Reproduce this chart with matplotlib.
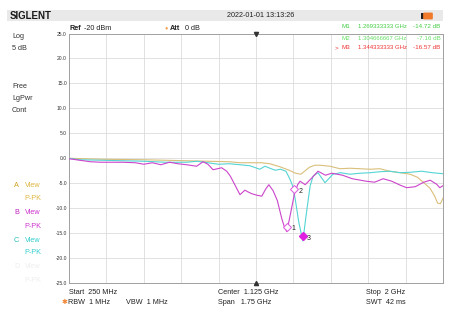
import matplotlib
matplotlib.use("Agg")
import matplotlib.pyplot as plt
from matplotlib.patches import Rectangle, FancyBboxPatch
from matplotlib.transforms import offset_copy

plt.rcParams['font.family'] = ['Liberation Sans', 'DejaVu Sans']

# ---------------- data ----------------
# Trace A (yellow), frequency in MHz, level in dB
freq_a = [250, 400, 600, 800, 900, 1000, 1050, 1150, 1190, 1237, 1280, 1310, 1335, 1355,
          1375, 1400, 1424, 1471, 1518, 1565, 1612, 1660, 1705, 1750, 1800, 1846, 1880,
          1910, 1939, 1960, 1975, 1988, 2000]
vals_a = [0.0, -0.2, -0.3, -0.5, -0.6, -0.7, -0.9, -0.9, -1.1, -1.7, -2.4, -3.0, -3.2, -2.5,
          -1.8, -1.4, -1.4, -1.6, -2.1, -2.0, -2.1, -2.2, -2.1, -2.6, -2.9, -3.2, -3.8,
          -4.9, -6.0, -7.5, -9.0, -9.1, -8.0]

# Trace B (magenta)
freq_b = [250, 300, 350, 400, 450, 500, 560, 600, 640, 680, 720, 760, 800, 847, 877, 900,
          924, 945, 964, 988, 1005, 1027, 1050, 1073, 1090, 1105, 1128, 1152, 1170, 1185,
          1205, 1225, 1245, 1258, 1269.33, 1287, 1304.67, 1320, 1331, 1355, 1385, 1415,
          1450, 1480, 1530, 1575, 1640, 1680, 1720, 1760, 1800, 1830, 1870, 1910, 1940,
          1970, 1985, 2000]
vals_b = [-0.1, -0.4, -0.7, -0.8, -0.8, -0.8, -0.9, -1.2, -0.9, -1.3, -0.8, -1.1, -1.3, -1.6,
          -0.7, -1.2, -2.3, -2.1, -1.9, -2.6, -3.6, -5.4, -7.3, -6.4, -6.8, -7.1, -7.4, -7.6,
          -6.2, -5.3, -6.5, -8.5, -12.0, -13.8, -14.72, -11.0, -7.16, -5.3, -4.6, -5.3, -4.0,
          -2.6, -3.4, -3.0, -3.4, -4.1, -4.6, -4.8, -4.1, -4.6, -5.4, -5.9, -5.7, -4.8, -4.4,
          -5.2, -5.9, -5.5]

# Trace C (cyan)
freq_c = [250, 300, 400, 500, 600, 700, 800, 850, 900, 950, 1000, 1050, 1096, 1143, 1167,
          1190, 1215, 1240, 1265, 1284, 1296, 1307, 1326, 1344.33, 1359, 1378, 1392, 1415,
          1448, 1485, 1520, 1565, 1612, 1660, 1705, 1750, 1800, 1850, 1900, 1950, 2000]
vals_c = [0.0, -0.3, -0.4, -0.5, -0.6, -0.8, -0.8, -0.6, -0.9, -1.2, -1.1, -1.3, -1.5, -2.2,
          -1.6, -2.0, -2.4, -2.2, -2.6, -4.2, -5.5, -7.8, -13.0, -16.57, -11.6, -5.6, -3.6,
          -2.9, -4.9, -3.2, -2.9, -3.2, -3.0, -2.9, -2.7, -2.6, -2.9, -2.8, -2.6, -2.9, -3.1]

# Markers
marker_names = ['1', '2', '3']
marker_freqs = [1269.333333, 1304.666667, 1344.333333]
marker_vals = [-14.72, -7.16, -16.57]
marker_ids = ['M1', 'M2', 'M3']
marker_freq_txt = ['1.269333333 GHz', '1.304666667 GHz', '1.344333333 GHz']
marker_val_txt = ['-14.72 dB', '-7.16 dB', '-16.57 dB']

start_mhz, stop_mhz = 250, 2000
ref_top, ref_bottom = 25, -25
y_ticks = [25, 20, 15, 10, 5, 0, -5, -10, -15, -20, -25]

# ---------------- figure ----------------
W, H = 450, 309
fig = plt.figure(figsize=(W / 100, H / 100), dpi=100)
fig.patch.set_facecolor('white')

def fx(x):
    return x / W

def fy(y):
    return 1 - y / H

left, right, top, bottom = 69, 443, 33.5, 283
ax = fig.add_axes([fx(left), fy(bottom), fx(right) - fx(left), fy(top) - fy(bottom)])
ax.set_xlim(start_mhz, stop_mhz)
ax.set_ylim(ref_bottom, ref_top)
step = (stop_mhz - start_mhz) / 10
ax.set_xticks([start_mhz + i * step for i in range(11)])
ax.set_xticklabels([])
ax.set_yticks(y_ticks)
ax.set_yticklabels([f'{v:.1f}' for v in y_ticks], fontsize=3.6, color='#333333')
ax.tick_params(length=0, pad=1.5)
ax.grid(True, color='#dcdcdc', lw=0.6)
for s in ax.spines.values():
    s.set_color('#a0a0a0')
    s.set_linewidth(0.7)

col_a = '#d9bf7a'
col_b = '#cc44cc'
col_c = '#55d4d4'
ax.plot(freq_a, vals_a, color=col_a, lw=0.8, zorder=3)
ax.plot(freq_c, vals_c, color=col_c, lw=0.8, zorder=4)
ax.plot(freq_b, vals_b, color=col_b, lw=0.8, zorder=5)

# markers (diamond sits just above the point)
mk_tr = offset_copy(ax.transData, fig=fig, x=0, y=3.5, units='points')
for i, (n, f, v) in enumerate(zip(marker_names, marker_freqs, marker_vals)):
    if i == 2:
        ax.plot([f], [v], marker='D', ms=3.6, mfc='#e020e0', mec='#e020e0',
                transform=mk_tr, zorder=7)
    else:
        ax.plot([f], [v], marker='D', ms=3.6, mfc='white', mec='#dd55dd', mew=0.7,
                transform=mk_tr, zorder=7)
    ax.text(f, v, n, transform=offset_copy(ax.transData, fig=fig, x=3.0, y=2.0, units='points'),
            fontsize=5, color='#222222', va='center', ha='left', zorder=8)

# center triangles
cx = (start_mhz + stop_mhz) / 2
ax.plot([cx], [ref_top], marker='v', ms=3, color='#333333', clip_on=False, zorder=9)
ax.plot([cx], [ref_bottom], marker='^', ms=3, color='#333333', clip_on=False, zorder=9)

# ---------------- header ----------------
fig.patches.append(Rectangle((fx(7), fy(20.5)), fx(443) - fx(7), fy(10) - fy(20.5),
                             transform=fig.transFigure, facecolor='#e9e9e9',
                             edgecolor='none', zorder=0))
fig.text(fx(10), fy(16), 'SIGLENT', fontsize=7, fontweight='bold', color='#1a1a1a',
         va='center', ha='left')
fig.text(fx(227), fy(15.5), '2022-01-01 13:13:26', fontsize=5.2, color='#222222',
         va='center', ha='left')
fig.patches.append(Rectangle((fx(420.5), fy(18.5)), fx(3.5), fy(13) - fy(18.5),
                             transform=fig.transFigure, facecolor='#222222',
                             edgecolor='none', zorder=2))
fig.patches.append(FancyBboxPatch((fx(424.5), fy(18.5)), fx(7), fy(13.5) - fy(18.5),
                                  boxstyle='round,pad=0.003', transform=fig.transFigure,
                                  facecolor='#f07a2a', edgecolor='none', zorder=2))

fig.text(fx(69), fy(28), 'Ref', fontsize=5.2, fontweight='bold', color='#222222', va='center')
fig.text(fx(84), fy(28), '-20 dBm', fontsize=5.2, color='#222222', va='center')
fig.text(fx(166), fy(28), '●', fontsize=4, color='#f5a050', va='center', ha='center')
fig.text(fx(170), fy(28), 'Att', fontsize=5.2, fontweight='bold', color='#222222', va='center')
fig.text(fx(185), fy(28), '0 dB', fontsize=5.2, color='#222222', va='center')

mk_colors = ['#44cc44', '#66dd66', '#ee3333']
mk_y = [27, 38.3, 47.7]
for mid, ftxt, vtxt, c, y in zip(marker_ids, marker_freq_txt, marker_val_txt, mk_colors, mk_y):
    fig.text(fx(341.5), fy(y), mid, fontsize=4.5, color=c, va='center', ha='left')
    fig.text(fx(357.5), fy(y), ftxt, fontsize=4.3, color=c, va='center', ha='left')
    fig.text(fx(440.5), fy(y), vtxt, fontsize=4.5, color=c, va='center', ha='right')
fig.text(fx(335), fy(mk_y[2]), '>', fontsize=4.5, color=mk_colors[2], va='center', ha='left')

# ---------------- left panel ----------------
for txt, y in [('Log', 36.5), ('5 dB', 48.5), ('Free', 86), ('LgPwr', 98.5), ('Cont', 110.5)]:
    fig.text(fx(12), fy(y), txt, fontsize=5.2, color='#333333', va='center', ha='left')

trace_labels = [('A', '#d4a020', '#ddb640', 185.7), ('B', '#bb22bb', '#cc33cc', 213),
                ('C', '#22bbbb', '#33cccc', 240), ('D', '#eeeeee', '#eeeeee', 267)]
for letter, c1, c2, y in trace_labels:
    fig.text(fx(14), fy(y), letter, fontsize=5.2, color=c1, va='center', ha='left')
    fig.text(fx(24.5), fy(y), 'View', fontsize=5.2, color=c2, va='center', ha='left')
    fig.text(fx(24.5), fy(y + 13), 'P-PK', fontsize=5.2, color=c2, va='center', ha='left')

# ---------------- bottom ----------------
for txt, x, y in [('Start  250 MHz', 69, 292.5), ('Center  1.125 GHz', 218, 292.5),
                  ('Stop  2 GHz', 366, 292.5), ('RBW  1 MHz', 68.5, 303),
                  ('VBW  1 MHz', 126, 303), ('Span   1.75 GHz', 218, 303),
                  ('SWT  42 ms', 366, 303)]:
    fig.text(fx(x), fy(y), txt, fontsize=5.2, color='#222222', va='center', ha='left')
fig.text(fx(64.5), fy(303), '✱', fontsize=5, color='#f08030', va='center', ha='center')

fig.savefig('out.png', dpi=100)
